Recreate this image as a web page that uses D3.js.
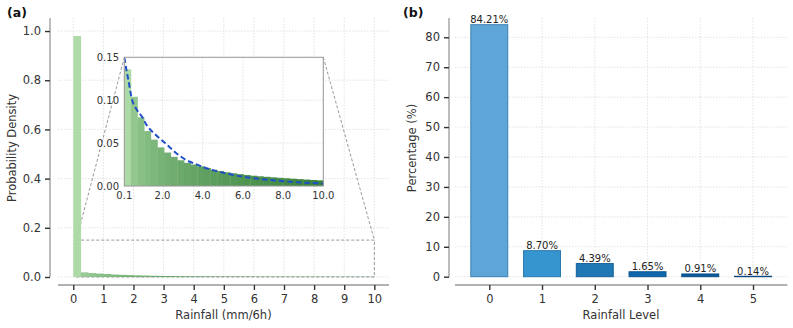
<!DOCTYPE html>
<html><head><meta charset="utf-8">
<script src="https://cdn.jsdelivr.net/npm/d3@7"></script>
<style>
body{margin:0;background:#fff;}
svg{display:block;font-family:"DejaVu Sans",sans-serif;}
</style></head><body>
<svg id="c" width="793" height="328"></svg>
<script>
// ---------- data ----------
// main histogram: bins of width 0.25 from 0 to 10 (density)
const mainBinWidth = 0.25;
const mainDensity = [0.98,0.019,0.016,0.014,0.012,0.010,0.0088,0.0077,0.0067,0.0058,
  0.0051,0.0045,0.0040,0.0036,0.0032,0.0029,0.0026,0.0024,0.0022,0.0020,
  0.0019,0.0018,0.0017,0.0016,0.0015,0.0014,0.0013,0.0013,0.0012,0.0012,
  0.0011,0.0011,0.0010,0.0010,0.0009,0.0009,0.0009,0.0008,0.0008,0.0008];
// inset histogram: 30 bins from 0.1 to 10
const insetRange = [0.1, 10];
const insetDensity = [0.136,0.104,0.080,0.064,0.054,0.045,0.039,0.034,0.030,0.027,
  0.025,0.023,0.021,0.019,0.0175,0.016,0.0148,0.0138,0.0128,0.012,
  0.0113,0.0107,0.0101,0.0095,0.009,0.0085,0.008,0.0075,0.007,0.0066];
// fitted curve (dashed)
const fitX = [0.1,0.2,0.3,0.47,0.72,1.0,1.21,1.6,2.13,2.6,3.12,3.6,4.37,5.36,6.35,7.35,8.34,9.83,10];
const fitY = [0.150,0.136,0.124,0.102,0.089,0.080,0.071,0.061,0.050,0.040,0.031,0.026,0.0194,0.0136,0.0097,0.0070,0.0050,0.0031,0.0030];
const mainXTicks = [0,1,2,3,4,5,6,7,8,9,10];
const mainYTicks = [0,0.2,0.4,0.6,0.8,1.0];
const insetXTicks = [0.1,2,4,6,8,10];
const insetYTicks = [0,0.05,0.10,0.15];
// panel b
const levels = [0,1,2,3,4,5];
const percentages = [84.21,8.70,4.39,1.65,0.91,0.14];
const levelColors = ["#5fa6d8","#3595cf","#1f77b4","#0e67ad","#0b5c9f","#0a5398"];
const levelEdges = ["#3b7fb4","#2a78ad","#17609a","#0b558f","#094b84","#08447c"];
const bYTicks = [0,10,20,30,40,50,60,70,80];

const svg = d3.select("#c");
const tickCol = "#333", spineCol = "#999", gridCol = "#dcdcdc";

function grid(g, xs, ys, x, y, x0, x1, y0, y1){
  g.selectAll(null).data(xs).enter().append("line")
    .attr("x1",d=>x(d)).attr("x2",d=>x(d)).attr("y1",y0).attr("y2",y1)
    .attr("stroke",gridCol).attr("stroke-width",0.8).attr("stroke-dasharray","1.5,1.5");
  g.selectAll(null).data(ys).enter().append("line")
    .attr("y1",d=>y(d)).attr("y2",d=>y(d)).attr("x1",x0).attr("x2",x1)
    .attr("stroke",gridCol).attr("stroke-width",0.8).attr("stroke-dasharray","1.5,1.5");
}
function styleAxis(g, fs){
  g.select(".domain").attr("stroke",spineCol).attr("stroke-width",1.3);
  g.selectAll(".tick line").attr("stroke",tickCol).attr("stroke-width",1.4);
  g.selectAll(".tick text").attr("fill","#333").attr("font-size",fs)
    .attr("font-family","DejaVu Sans, sans-serif");
}

// ---------- panel a ----------
const xA = d3.scaleLinear().domain([-0.5,10.5]).range([58.2,389.4]);
const yA = d3.scaleLinear().domain([0,1.053]).range([277,18]);
const gA = svg.append("g");
grid(gA, mainXTicks, mainYTicks, xA, yA, 58, 389, 18, 277);

const greens = i => d3.interpolateRgb("#a8d8a2","#2e7d32")(Math.pow(i,0.45));

// zoom indicator rectangle & connectors
const xI = d3.scaleLinear().domain(insetRange).range([124.3,323.3]);
const yI = d3.scaleLinear().domain([0,0.15]).range([186,57.3]);
const ind = gA.append("g").attr("stroke","#999").attr("stroke-width",1).attr("fill","none").attr("stroke-dasharray","3,2");
ind.append("rect").attr("x",xA(insetRange[0])).attr("y",yA(0.15))
  .attr("width",xA(insetRange[1])-xA(insetRange[0])).attr("height",yA(0)-yA(0.15));
ind.append("line").attr("x1",xI(insetRange[0])).attr("y1",yI(0.15)).attr("x2",xA(insetRange[0])).attr("y2",yA(0.15));
ind.append("line").attr("x1",xI(insetRange[1])).attr("y1",yI(0.15)).attr("x2",xA(insetRange[1])).attr("y2",yA(0.15));

gA.selectAll(null).data(mainDensity).enter().append("rect")
  .attr("x",(d,i)=>xA(i*mainBinWidth))
  .attr("width",(d,i)=>xA((i+1)*mainBinWidth)-xA(i*mainBinWidth)+0.3)
  .attr("y",d=>yA(d)).attr("height",d=>yA(0)-yA(d))
  .attr("fill",(d,i)=>greens(i/(mainDensity.length-1))).attr("fill-opacity",0.92);

const axXA = gA.append("g").attr("transform","translate(0,285)")
  .call(d3.axisBottom(xA).tickValues(mainXTicks).tickSize(5).tickPadding(5).tickFormat(d3.format("d")));
styleAxis(axXA, 11.5);
axXA.select(".domain").attr("d","M58,0H389");
const axYA = gA.append("g").attr("transform","translate(50,0)")
  .call(d3.axisLeft(yA).tickValues(mainYTicks).tickSize(5).tickPadding(4).tickFormat(d3.format(".1f")));
styleAxis(axYA, 11.5);
axYA.select(".domain").attr("d","M0,18V277");

svg.append("text").attr("x",223.5).attr("y",319).attr("text-anchor","middle")
  .attr("font-size",11.5).attr("fill","#333").text("Rainfall (mm/6h)");
svg.append("text").attr("transform","translate(16,148) rotate(-90)").attr("text-anchor","middle")
  .attr("font-size",11.5).attr("fill","#333").text("Probability Density");
svg.append("text").attr("x",7).attr("y",17).attr("font-size",12.5).attr("font-weight","bold")
  .attr("fill","#111").text("(a)");

// ---------- inset ----------
const gI = svg.append("g");
gI.append("rect").attr("x",124.3).attr("y",57.3).attr("width",199).attr("height",128.7).attr("fill","#fff");
grid(gI, insetXTicks, insetYTicks, xI, yI, 124.3, 323.3, 57.3, 186);
const iw = (insetRange[1]-insetRange[0])/insetDensity.length;
gI.selectAll(null).data(insetDensity).enter().append("rect")
  .attr("x",(d,i)=>xI(insetRange[0]+i*iw))
  .attr("width",(d,i)=>xI(insetRange[0]+(i+1)*iw)-xI(insetRange[0]+i*iw)+0.3)
  .attr("y",d=>yI(d)).attr("height",d=>yI(0)-yI(d))
  .attr("fill",(d,i)=>greens(i/(insetDensity.length-1))).attr("fill-opacity",0.95);
svg.append("clipPath").attr("id","ic").append("rect").attr("x",124.3).attr("y",57.3).attr("width",199).attr("height",128.7);
gI.append("path").datum(fitX.map((x,i)=>[x,fitY[i]]))
  .attr("clip-path","url(#ic)")
  .attr("d",d3.line().x(d=>xI(d[0])).y(d=>yI(d[1])).curve(d3.curveMonotoneX))
  .attr("fill","none").attr("stroke","#1f4fc6").attr("stroke-width",2).attr("stroke-dasharray","5.5,3");
gI.append("rect").attr("x",124.3).attr("y",57.3).attr("width",199).attr("height",128.7)
  .attr("fill","none").attr("stroke","#999").attr("stroke-width",1);
gI.selectAll(null).data(insetXTicks).enter().append("text")
  .attr("x",d=>xI(d)).attr("y",199).attr("text-anchor","middle").attr("font-size",10).attr("fill","#333")
  .text(d3.format(".1f"));
gI.selectAll(null).data(insetYTicks).enter().append("text")
  .attr("x",119).attr("y",d=>yI(d)+3.5).attr("text-anchor","end").attr("font-size",10).attr("fill","#333")
  .text(d3.format(".2f"));

// ---------- panel b ----------
const xB = d3.scaleLinear().domain([-0.65,5.65]).range([455,787.3]);
const yB = d3.scaleLinear().domain([0,86.45]).range([276.7,18]);
const gB = svg.append("g");
grid(gB, levels, bYTicks, xB, yB, 455, 787, 18, 277);
gB.selectAll(null).data(percentages).enter().append("rect")
  .attr("x",(d,i)=>xB(levels[i]-0.35)).attr("width",xB(0.35)-xB(-0.35))
  .attr("y",d=>yB(d)).attr("height",d=>yB(0)-yB(d))
  .attr("fill",(d,i)=>levelColors[i]).attr("stroke",(d,i)=>levelEdges[i]).attr("stroke-width",1);
gB.selectAll(null).data(percentages).enter().append("text")
  .attr("x",(d,i)=>xB(levels[i])).attr("y",d=>yB(d)-1.5).attr("text-anchor","middle")
  .attr("font-size",10).attr("fill","#222").text(d=>d.toFixed(2)+"%");
const axXB = gB.append("g").attr("transform","translate(0,285)")
  .call(d3.axisBottom(xB).tickValues(levels).tickSize(5).tickPadding(5).tickFormat(d3.format("d")));
styleAxis(axXB, 11.5);
axXB.select(".domain").attr("d","M455,0H787.3");
const axYB = gB.append("g").attr("transform","translate(449,0)")
  .call(d3.axisLeft(yB).tickValues(bYTicks).tickSize(5).tickPadding(4).tickFormat(d3.format("d")));
styleAxis(axYB, 11.5);
axYB.select(".domain").attr("d","M0,18V277");
svg.append("text").attr("x",621).attr("y",319).attr("text-anchor","middle")
  .attr("font-size",11.5).attr("fill","#333").text("Rainfall Level");
svg.append("text").attr("transform","translate(416,148) rotate(-90)").attr("text-anchor","middle")
  .attr("font-size",11.5).attr("fill","#333").text("Percentage (%)");
svg.append("text").attr("x",403).attr("y",17).attr("font-size",12.5).attr("font-weight","bold")
  .attr("fill","#111").text("(b)");
</script>
</body></html>
